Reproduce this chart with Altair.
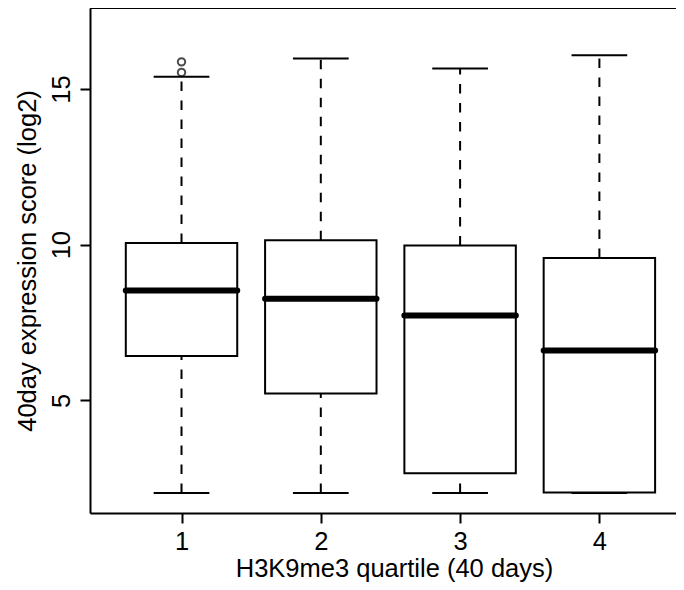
import altair as alt
import pandas as pd

quartile = [1, 2, 3, 4]
whisker_low = [2.02, 2.02, 2.02, 2.02]
q1 = [6.42, 5.22, 2.66, 2.04]
median = [8.53, 8.26, 7.72, 6.60]
q3 = [10.05, 10.14, 9.97, 9.57]
whisker_high = [15.39, 15.98, 15.66, 16.08]
out_quartile = [1, 1]
out_value = [15.87, 15.53]

df = pd.DataFrame({"q": quartile, "lo": whisker_low, "q1": q1, "med": median,
                   "q3": q3, "hi": whisker_high})
dout = pd.DataFrame({"q": out_quartile, "v": out_value})

W, H = 586, 505
FONT = "Liberation Sans"
FS = 25.5

xs = alt.Scale(domain=[0.343, 4.55], nice=False, zero=False)
ys = alt.Scale(domain=[1.38, 17.6], nice=False, zero=False)

xaxis = alt.Axis(values=[1, 2, 3, 4], format="d", title="H3K9me3 quartile (40 days)",
                 grid=False, tickSize=10, tickWidth=2, tickColor="black",
                 domainColor="black", domainWidth=2,
                 labelFont=FONT, labelFontSize=FS, labelColor="black", labelPadding=6,
                 titleFont=FONT, titleFontSize=FS, titleFontWeight="normal",
                 titleColor="black", titleBaseline="alphabetic", titleY=63, titleX=304)
yaxis = alt.Axis(values=[5, 10, 15], format="d", title="40day expression score (log2)",
                 grid=False, tickSize=10, tickWidth=2, tickColor="black",
                 domainColor="black", domainWidth=2,
                 labelFont=FONT, labelFontSize=FS, labelColor="black", labelPadding=6,
                 labelAngle=-90, labelAlign="center", labelBaseline="bottom",
                 titleFont=FONT, titleFontSize=FS, titleFontWeight="normal",
                 titleColor="black", titlePadding=9)

base = alt.Chart(df)

boxes = base.transform_calculate(xl="datum.q - 0.4", xr="datum.q + 0.4").mark_rect(
    fill="white", stroke="black", strokeWidth=2
).encode(
    x=alt.X("xl:Q", scale=xs, axis=xaxis),
    x2="xr:Q",
    y=alt.Y("q1:Q", scale=ys, axis=yaxis),
    y2="q3:Q",
)

whisk_up = base.mark_rule(color="black", strokeWidth=2, strokeDash=[9.5, 9.5]).encode(
    x=alt.X("q:Q", scale=xs), y=alt.Y("q3:Q", scale=ys), y2="hi:Q")
whisk_dn = base.mark_rule(color="black", strokeWidth=2, strokeDash=[9.5, 9.5]).encode(
    x=alt.X("q:Q", scale=xs), y=alt.Y("lo:Q", scale=ys), y2="q1:Q")

cap_base = base.transform_calculate(cl="datum.q - 0.2", cr="datum.q + 0.2")
cap_hi = cap_base.mark_rule(color="black", strokeWidth=2).encode(
    x=alt.X("cl:Q", scale=xs), x2="cr:Q", y=alt.Y("hi:Q", scale=ys))
cap_lo = cap_base.mark_rule(color="black", strokeWidth=2).encode(
    x=alt.X("cl:Q", scale=xs), x2="cr:Q", y=alt.Y("lo:Q", scale=ys))

med = base.transform_calculate(xl="datum.q - 0.4", xr="datum.q + 0.4").mark_rule(
    color="black", strokeWidth=6, strokeCap="round").encode(
    x=alt.X("xl:Q", scale=xs), x2="xr:Q", y=alt.Y("med:Q", scale=ys))

outl = alt.Chart(dout).mark_point(shape="circle", filled=False, color="black",
                                  size=55, strokeWidth=2).encode(
    x=alt.X("q:Q", scale=xs), y=alt.Y("v:Q", scale=ys))

top = alt.Chart(df).mark_rule(color="black", strokeWidth=2).encode(
    x=alt.value(0), x2=alt.value(W), y=alt.value(0))

chart = alt.layer(whisk_up, whisk_dn, boxes, cap_hi, cap_lo, med, outl, top).properties(
    width=W, height=H,
    autosize=alt.AutoSizeParams(type="none"),
    padding={"left": 82, "top": 0, "right": 0, "bottom": 69},
).configure_view(stroke=None).configure(background="white")

chart.save("out.html", embed_options={"renderer": "svg", "actions": False})
